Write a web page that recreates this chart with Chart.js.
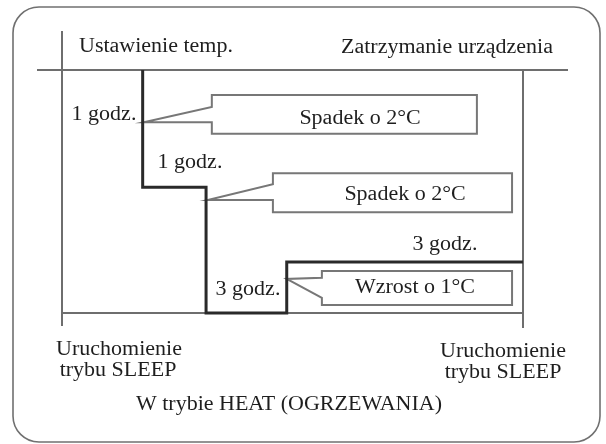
<!DOCTYPE html>
<html>
<head>
<meta charset="utf-8">
<script src="https://cdn.jsdelivr.net/npm/chart.js@4"></script>
<style>
  html, body { margin: 0; padding: 0; background: #fff; }
  #c { display: block; }
</style>
</head>
<body>
<canvas id="c" width="606" height="444"></canvas>
<script>
// ---- data (schematic time in hours, schematic temperature level in °C) ----
const stepHours = [1.4, 1.4, 2.5, 2.5, 3.9, 3.9, 8];
const stepLevel = [0, -1.93, -1.93, -4, -4, -3.16, -3.16];

const durationLabels = ['1 godz.', '1 godz.', '3 godz.', '3 godz.'];
const changeLabels = ['Spadek o 2°C', 'Spadek o 2°C', 'Wzrost o 1°C'];
const headerLabels = ['Ustawienie temp.', 'Zatrzymanie urządzenia'];
const sleepLabel = ['Uruchomienie', 'trybu SLEEP'];
const modeTitle = 'W trybie HEAT (OGRZEWANIA)';

// callout geometry in scale units (x: hours, y: level)
const callouts = [
  { left: 2.60, right: 7.20, top: -0.41, bottom: -1.05, notchTop: -0.61, notchBottom: -0.86, tipX: 1.42, tipY: -0.86 },
  { left: 3.66, right: 7.81, top: -1.70, bottom: -2.34, notchTop: -1.88, notchBottom: -2.14, tipX: 2.53, tipY: -2.14 },
  { left: 4.51, right: 7.81, top: -3.31, bottom: -3.87, notchTop: -3.42, notchBottom: -3.75, tipX: 3.90, tipY: -3.44 }
];

const FONT = '20px "Liberation Serif", "Times New Roman", serif';
const TEXT_COLOR = '#1e1e1e';
const LINE_COLOR = '#6e6e6e';

function drawText(ctx, txt, cx, cy) {
  ctx.save();
  ctx.translate(cx, cy);
  ctx.scale(1.1, 1);
  ctx.font = FONT;
  ctx.fillStyle = TEXT_COLOR;
  ctx.textAlign = 'center';
  ctx.textBaseline = 'middle';
  ctx.fillText(txt, 0, 0);
  ctx.restore();
}

const diagram = {
  id: 'diagram',
  beforeDatasetsDraw(chart) {
    const ctx = chart.ctx;
    const xs = chart.scales.x, ys = chart.scales.y;
    const X = v => xs.getPixelForValue(v), Y = v => ys.getPixelForValue(v);
    ctx.save();
    // outer rounded frame
    const l = 13, t = 7, r = 600, b = 442, rad = 26;
    ctx.beginPath();
    ctx.moveTo(l + rad, t);
    ctx.lineTo(r - rad, t);
    ctx.arcTo(r, t, r, t + rad, rad);
    ctx.lineTo(r, b - rad);
    ctx.arcTo(r, b, r - rad, b, rad);
    ctx.lineTo(l + rad, b);
    ctx.arcTo(l, b, l, b - rad, rad);
    ctx.lineTo(l, t + rad);
    ctx.arcTo(l, t, l + rad, t, rad);
    ctx.closePath();
    ctx.lineWidth = 1.6;
    ctx.strokeStyle = '#707070';
    ctx.stroke();

    // frame lines
    const x0 = X(0), x1 = X(8), yTop = Y(0), yBot = Y(-4);
    ctx.strokeStyle = LINE_COLOR;
    ctx.lineWidth = 2;
    ctx.lineCap = 'butt';
    ctx.beginPath();
    ctx.moveTo(x0 - 25, yTop); ctx.lineTo(x1 + 45, yTop);       // top line
    ctx.moveTo(x0, yTop - 39); ctx.lineTo(x0, yBot + 13);       // left vertical
    ctx.moveTo(x1, yTop); ctx.lineTo(x1, yBot + 15);            // right vertical
    ctx.moveTo(x0, yBot); ctx.lineTo(x1, yBot);                 // baseline
    ctx.stroke();

    // callouts
    ctx.lineWidth = 2;
    ctx.strokeStyle = '#777';
    ctx.lineJoin = 'miter';
    callouts.forEach(c => {
      ctx.beginPath();
      ctx.moveTo(X(c.left), Y(c.top));
      ctx.lineTo(X(c.right), Y(c.top));
      ctx.lineTo(X(c.right), Y(c.bottom));
      ctx.lineTo(X(c.left), Y(c.bottom));
      ctx.lineTo(X(c.left), Y(c.notchBottom));
      ctx.lineTo(X(c.tipX), Y(c.tipY));
      ctx.lineTo(X(c.left), Y(c.notchTop));
      ctx.closePath();
      ctx.stroke();
    });
    ctx.restore();
  },
  afterDatasetsDraw(chart) {
    const ctx = chart.ctx;
    drawText(ctx, headerLabels[0], 156, 47);
    drawText(ctx, headerLabels[1], 447, 48);
    drawText(ctx, durationLabels[0], 104, 115);
    drawText(ctx, durationLabels[1], 190, 163);
    drawText(ctx, durationLabels[2], 445, 245);
    drawText(ctx, durationLabels[3], 248, 290);
    drawText(ctx, changeLabels[0], 360, 119);
    drawText(ctx, changeLabels[1], 405, 195);
    drawText(ctx, changeLabels[2], 415, 288);
    drawText(ctx, sleepLabel[0], 119, 350);
    drawText(ctx, sleepLabel[1], 118, 371);
    drawText(ctx, sleepLabel[0], 503, 352);
    drawText(ctx, sleepLabel[1], 503, 373);
    drawText(ctx, modeTitle, 289, 405);
  }
};

new Chart(document.getElementById('c'), {
  type: 'line',
  data: {
    datasets: [{
      data: stepHours.map((h, i) => ({ x: h, y: stepLevel[i] })),
      borderColor: '#2a2a2a',
      borderWidth: 3,
      pointRadius: 0,
      fill: false,
      tension: 0,
      clip: false,
      borderJoinStyle: 'miter'
    }]
  },
  options: {
    responsive: false,
    animation: false,
    events: [],
    layout: { padding: { left: 62, right: 83, top: 70, bottom: 131 } },
    plugins: { legend: { display: false }, tooltip: { enabled: false }, title: { display: false } },
    scales: {
      x: { type: 'linear', min: 0, max: 8, display: false },
      y: { type: 'linear', min: -4, max: 0, display: false }
    }
  },
  plugins: [diagram]
});
</script>
</body>
</html>
